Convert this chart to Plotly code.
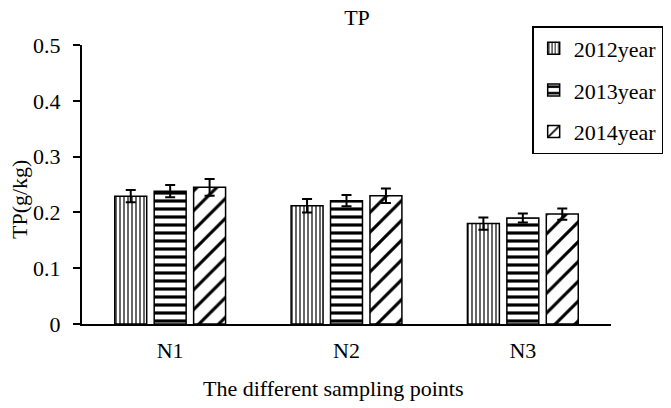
import plotly.graph_objects as go

categories = ["N1", "N2", "N3"]
years = ["2012year", "2013year", "2014year"]
values_2012 = [0.229, 0.212, 0.180]
values_2013 = [0.238, 0.221, 0.190]
values_2014 = [0.245, 0.230, 0.197]
err_2012 = [0.011, 0.012, 0.011]
err_2013 = [0.011, 0.010, 0.008]
err_2014 = [0.015, 0.013, 0.010]
y_ticks = [0, 0.1, 0.2, 0.3, 0.4, 0.5]

series = [values_2012, values_2013, values_2014]
errors = [err_2012, err_2013, err_2014]
shapes = ["|", "-", "/"]
sizes = [4, 8, 14]
solids = [0.3, 0.4, 0.22]

font = "Liberation Serif"
fs = 22
xpos = list(range(len(categories)))

fig = go.Figure()
for i, (name, vals, errs) in enumerate(zip(years, series, errors)):
    fig.add_trace(go.Bar(
        x=xpos, y=vals, name=name, legendgroup=name,
        marker=dict(color="white",
                    line=dict(color="black", width=1.5),
                    pattern=dict(shape=shapes[i], fgcolor="black", bgcolor="white",
                                 fgopacity=1, size=sizes[i], solidity=solids[i],
                                 fillmode="replace")),
        error_y=dict(type="data", array=errs, visible=True, color="black",
                     thickness=2, width=5),
    ))

fig.update_layout(
    width=671, height=408,
    margin=dict(l=82, r=60, t=45, b=84, autoexpand=False),
    paper_bgcolor="white", plot_bgcolor="white",
    font=dict(family=font, size=fs, color="black"),
    title=dict(text="TP", x=(357 / 671), xanchor="center", y=1 - 17 / 408, yanchor="middle",
               font=dict(family=font, size=fs, color="black")),
    barmode="group", bargap=0.329, bargroupgap=0.19,
    showlegend=True,
    legend=dict(x=0.851, y=1.068, xanchor="left", yanchor="top",
                bordercolor="black", borderwidth=1.5, bgcolor="white",
                font=dict(family=font, size=fs, color="black"),
                traceorder="grouped", tracegroupgap=10),
    annotations=[
        dict(text="The different sampling points", xref="paper", yref="paper",
             x=(333 - 82) / 529, y=-(388 - 324) / 279, xanchor="center", yanchor="middle",
             showarrow=False, font=dict(family=font, size=fs, color="black")),
        dict(text="TP(g/kg)", xref="paper", yref="paper", textangle=-90,
             x=-(82 - 19) / 529, y=(324 - 200) / 279, xanchor="center", yanchor="middle",
             showarrow=False, font=dict(family=font, size=fs, color="black")),
    ],
)
fig.update_xaxes(
    tickmode="array", tickvals=xpos, ticktext=categories,
    range=[-0.5, 2.5], automargin=False,
    showline=True, linecolor="black", linewidth=2,
    ticks="", showgrid=False, zeroline=False,
    ticklabelstandoff=6,
    tickfont=dict(family=font, size=fs),
)
fig.update_yaxes(
    range=[0, 0.5], tickmode="array", tickvals=y_ticks,
    ticktext=[str(t) for t in y_ticks], automargin=False,
    showline=True, linecolor="black", linewidth=2,
    ticks="outside", ticklen=7, tickwidth=2, tickcolor="black",
    ticklabelstandoff=8,
    showgrid=False, zeroline=False,
    tickfont=dict(family=font, size=fs),
)

fig.write_html("out.html", config={"displayModeBar": False},
               post_script="document.body.style.margin='0';")
